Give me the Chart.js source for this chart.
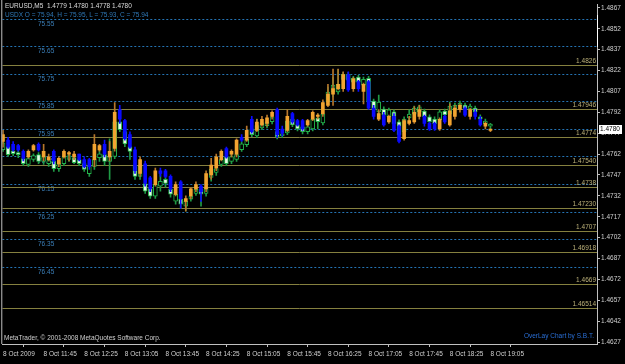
<!DOCTYPE html>
<html>
<head>
<meta charset="utf-8">
<script src="https://cdn.jsdelivr.net/npm/chart.js@4.4.1/dist/chart.umd.min.js"></script>
<style>
  html, body { margin: 0; padding: 0; background: #000; }
</style>
</head>
<body>
<canvas id="chart" width="625" height="364"></canvas>
<script>
// EURUSD M5 candles, 11:05 .. 19:05
const eurOpen = [
  1.4771, 1.4772, 1.4769, 1.4768, 1.4764, 1.4760, 1.4765, 1.4769, 1.4760, 1.4758,
  1.4764, 1.4755, 1.4760, 1.4762, 1.4760, 1.4762, 1.4758, 1.4758, 1.4758, 1.4765,
  1.4769, 1.4760, 1.4766, 1.4794, 1.4786, 1.4776, 1.4765, 1.4748, 1.4755, 1.4745,
  1.4740, 1.4750, 1.4750, 1.4746, 1.4733, 1.4742, 1.4728, 1.4732, 1.4737, 1.4739,
  1.4737, 1.4747, 1.4752, 1.4758, 1.4766, 1.4762, 1.4762, 1.4774, 1.4772, 1.4787,
  1.4779, 1.4783, 1.4784, 1.4789, 1.4794, 1.4780, 1.4779, 1.4791, 1.4786, 1.4786,
  1.4783, 1.4787, 1.4789, 1.4791, 1.4797, 1.4805, 1.4809, 1.4809, 1.4819, 1.4809,
  1.4814, 1.4807, 1.4814, 1.4795, 1.4787, 1.4790, 1.4785, 1.4789, 1.4782, 1.4773,
  1.4784, 1.4785, 1.4789, 1.4789, 1.4784, 1.4784, 1.4780, 1.4789, 1.4783, 1.4789,
  1.4794, 1.4795, 1.4789, 1.4792, 1.4787, 1.4782, 1.4779
];
const eurHigh = [
  1.4779, 1.4774, 1.4771, 1.4769, 1.4765, 1.4765, 1.4769, 1.4770, 1.4769, 1.4762,
  1.4765, 1.4760, 1.4765, 1.4764, 1.4764, 1.4762, 1.4760, 1.4759, 1.4776, 1.4769,
  1.4772, 1.4771, 1.4799, 1.4797, 1.4787, 1.4778, 1.4767, 1.4760, 1.4757, 1.4746,
  1.4752, 1.4752, 1.4751, 1.4747, 1.4742, 1.4743, 1.4732, 1.4738, 1.4742, 1.4740,
  1.4750, 1.4759, 1.4762, 1.4765, 1.4767, 1.4765, 1.4773, 1.4776, 1.4782, 1.4789,
  1.4787, 1.4789, 1.4790, 1.4793, 1.4795, 1.4782, 1.4794, 1.4792, 1.4787, 1.4787,
  1.4787, 1.4793, 1.4791, 1.4801, 1.4812, 1.4823, 1.4823, 1.4821, 1.4821, 1.4817,
  1.4815, 1.4813, 1.4815, 1.4797, 1.4794, 1.4792, 1.4790, 1.4791, 1.4783, 1.4787,
  1.4789, 1.4796, 1.4797, 1.4790, 1.4785, 1.4785, 1.4788, 1.4790, 1.4798, 1.4797,
  1.4798, 1.4796, 1.4795, 1.4794, 1.4789, 1.4785, 1.4780
];
const eurLow = [
  1.4767, 1.4766, 1.4764, 1.4764, 1.4757, 1.4759, 1.4764, 1.4764, 1.4757, 1.4757,
  1.4755, 1.4753, 1.4759, 1.4757, 1.4758, 1.4757, 1.4752, 1.4751, 1.4753, 1.4764,
  1.4760, 1.4757, 1.4764, 1.4784, 1.4772, 1.4766, 1.4748, 1.4746, 1.4739, 1.4735,
  1.4739, 1.4746, 1.4745, 1.4735, 1.4732, 1.4723, 1.4721, 1.4730, 1.4735, 1.4728,
  1.4735, 1.4744, 1.4750, 1.4757, 1.4759, 1.4760, 1.4760, 1.4771, 1.4771, 1.4777,
  1.4778, 1.4782, 1.4782, 1.4787, 1.4774, 1.4775, 1.4778, 1.4784, 1.4782, 1.4779,
  1.4782, 1.4786, 1.4787, 1.4789, 1.4796, 1.4797, 1.4808, 1.4807, 1.4807, 1.4807,
  1.4807, 1.4798, 1.4794, 1.4787, 1.4786, 1.4782, 1.4784, 1.4778, 1.4770, 1.4772,
  1.4783, 1.4784, 1.4787, 1.4782, 1.4779, 1.4779, 1.4779, 1.4784, 1.4782, 1.4787,
  1.4792, 1.4789, 1.4787, 1.4787, 1.4782, 1.4780, 1.4778
];
const eurClose = [
  1.4776, 1.4767, 1.4765, 1.4765, 1.4759, 1.4764, 1.4768, 1.4765, 1.4764, 1.4760,
  1.4757, 1.4759, 1.4764, 1.4763, 1.4762, 1.4758, 1.4753, 1.4753, 1.4769, 1.4768,
  1.4762, 1.4764, 1.4792, 1.4787, 1.4773, 1.4767, 1.4750, 1.4758, 1.4741, 1.4737,
  1.4750, 1.4748, 1.4746, 1.4737, 1.4740, 1.4730, 1.4730, 1.4737, 1.4740, 1.4735,
  1.4748, 1.4754, 1.4760, 1.4764, 1.4760, 1.4764, 1.4772, 1.4772, 1.4779, 1.4778,
  1.4785, 1.4787, 1.4788, 1.4792, 1.4776, 1.4777, 1.4789, 1.4785, 1.4783, 1.4780,
  1.4786, 1.4792, 1.4790, 1.4799, 1.4805, 1.4809, 1.4812, 1.4819, 1.4808, 1.4816,
  1.4809, 1.4812, 1.4795, 1.4789, 1.4791, 1.4783, 1.4789, 1.4779, 1.4771, 1.4786,
  1.4786, 1.4792, 1.4794, 1.4784, 1.4780, 1.4780, 1.4787, 1.4785, 1.4793, 1.4795,
  1.4797, 1.4790, 1.4794, 1.4789, 1.4783, 1.4784, 1.4780
];

// USDX overlay (drawn on its own inverted scale)
const usdxOpen = [
  76.025, 76.014, 76.029, 76.036, 76.058, 76.079, 76.061, 76.043, 76.068, 76.076,
  76.068, 76.094, 76.076, 76.061, 76.054, 76.061, 76.076, 76.112, 76.086, 76.054,
  76.043, 76.068, 76.050, 75.924, 75.960, 76.014, 76.086, 76.122, 76.148, 76.166,
  76.194, 76.158, 76.133, 76.169, 76.212, 76.205, 76.230, 76.205, 76.184, 76.169,
  76.184, 76.126, 76.108, 76.079, 76.050, 76.068, 76.061, 76.025, 76.007, 75.950,
  75.975, 75.946, 75.938, 75.924, 75.960, 75.975, 75.964, 75.914, 75.935, 75.942,
  75.960, 75.950, 75.910, 75.928, 75.852, 75.816, 75.816, 75.770, 75.752, 75.780,
  75.762, 75.791, 75.766, 75.849, 75.888, 75.878, 75.906, 75.888, 75.924, 75.960,
  75.910, 75.896, 75.888, 75.885, 75.906, 75.914, 75.917, 75.885, 75.896, 75.881,
  75.867, 75.863, 75.881, 75.874, 75.906, 75.932, 75.940
];
const usdxHigh = [
  76.032, 76.050, 76.047, 76.054, 76.083, 76.086, 76.068, 76.076, 76.079, 76.086,
  76.104, 76.104, 76.083, 76.068, 76.076, 76.083, 76.104, 76.122, 76.097, 76.068,
  76.083, 76.133, 76.058, 75.960, 76.014, 76.061, 76.133, 76.133, 76.184, 76.202,
  76.202, 76.176, 76.162, 76.198, 76.223, 76.238, 76.248, 76.212, 76.191, 76.230,
  76.194, 76.140, 76.119, 76.086, 76.083, 76.076, 76.068, 76.032, 76.014, 75.978,
  75.982, 75.953, 75.946, 75.932, 75.986, 75.982, 75.971, 75.942, 75.957, 75.968,
  75.968, 75.957, 75.950, 75.935, 75.860, 75.834, 75.824, 75.777, 75.780, 75.788,
  75.788, 75.798, 75.860, 75.885, 75.914, 75.906, 75.914, 75.938, 75.978, 75.968,
  75.924, 75.903, 75.896, 75.914, 75.932, 75.938, 75.924, 75.906, 75.903, 75.888,
  75.874, 75.885, 75.888, 75.896, 75.921, 75.938, 75.950
];
const usdxLow = [
  75.989, 76.007, 76.022, 76.029, 76.050, 76.050, 76.040, 76.036, 76.043, 76.058,
  76.061, 76.068, 76.043, 76.040, 76.047, 76.054, 76.068, 76.079, 76.032, 76.025,
  76.032, 75.986, 75.888, 75.906, 75.953, 76.007, 76.050, 76.068, 76.104, 76.158,
  76.140, 76.104, 76.122, 76.158, 76.180, 76.194, 76.205, 76.187, 76.162, 76.162,
  76.158, 76.086, 76.086, 76.054, 76.043, 76.043, 76.032, 75.996, 75.978, 75.942,
  75.914, 75.921, 75.917, 75.899, 75.896, 75.960, 75.914, 75.906, 75.928, 75.935,
  75.935, 75.906, 75.896, 75.888, 75.798, 75.762, 75.734, 75.744, 75.744, 75.759,
  75.755, 75.762, 75.759, 75.842, 75.827, 75.870, 75.874, 75.881, 75.917, 75.906,
  75.881, 75.867, 75.863, 75.878, 75.899, 75.906, 75.881, 75.878, 75.852, 75.856,
  75.849, 75.856, 75.860, 75.867, 75.899, 75.914, 75.930
];
const usdxClose = [
  76.000, 76.043, 76.040, 76.043, 76.076, 76.058, 76.047, 76.068, 76.050, 76.065,
  76.094, 76.076, 76.050, 76.047, 76.072, 76.076, 76.097, 76.086, 76.061, 76.040,
  76.068, 76.050, 75.924, 75.953, 76.004, 76.032, 76.122, 76.086, 76.176, 76.194,
  76.151, 76.140, 76.148, 76.187, 76.187, 76.223, 76.212, 76.194, 76.169, 76.187,
  76.166, 76.097, 76.094, 76.061, 76.076, 76.050, 76.043, 76.004, 75.986, 75.971,
  75.938, 75.928, 75.924, 75.906, 75.978, 75.968, 75.921, 75.935, 75.950, 75.960,
  75.942, 75.914, 75.924, 75.896, 75.816, 75.791, 75.788, 75.752, 75.773, 75.766,
  75.780, 75.770, 75.852, 75.878, 75.852, 75.899, 75.881, 75.932, 75.971, 75.914,
  75.896, 75.874, 75.870, 75.906, 75.924, 75.932, 75.888, 75.899, 75.867, 75.863,
  75.856, 75.878, 75.867, 75.888, 75.914, 75.921, 75.940
];

const timeLabels = [
  '8 Oct 2009', '8 Oct 11:45', '8 Oct 12:25', '8 Oct 13:05', '8 Oct 13:45',
  '8 Oct 14:25', '8 Oct 15:05', '8 Oct 15:45', '8 Oct 16:25', '8 Oct 17:05',
  '8 Oct 17:45', '8 Oct 18:25', '8 Oct 19:05'
];
const priceTicks = [
  1.4867, 1.4852, 1.4837, 1.4822, 1.4807, 1.4792, 1.4777, 1.4762, 1.4747,
  1.4732, 1.4717, 1.4702, 1.4687, 1.4672, 1.4657, 1.4642, 1.4627
];
// horizontal levels
const eurLevels = [1.4826, 1.47946, 1.4774, 1.4754, 1.4738, 1.4723, 1.4707, 1.46918, 1.4669, 1.46514];
const eurLevelLabels = ['1.4826', '1.47946', '1.4774', '1.47540', '1.4738', '1.47230', '1.4707', '1.46918', '1.4669', '1.46514'];
const usdxLevels = [75.55, 75.65, 75.75, 75.85, 75.95, 76.05, 76.15, 76.25, 76.35, 76.45];

const FONT = '"Liberation Sans", Arial, sans-serif';
const ORANGE = '#f2a431';
const BLUE = '#0a0aff';
const GREEN = '#22b24a';

const idx = eurOpen.map((_, i) => i);
const eurUp = (i) => eurClose[i] >= eurOpen[i];
const usdxUp = (i) => usdxClose[i] > usdxOpen[i];

const overlay = {
  id: 'overlay',
  beforeDatasetsDraw(chart) {
    const { ctx, chartArea: a, scales } = chart;
    ctx.save();
    ctx.beginPath();
    ctx.rect(a.left, a.top, a.right - a.left, a.bottom - a.top);
    ctx.clip();
    ctx.lineWidth = 1;
    ctx.font = '6.5px ' + FONT;

    ctx.setLineDash([2, 2]);
    ctx.strokeStyle = '#2574b4';
    ctx.fillStyle = '#3b7fb8';
    ctx.textAlign = 'left';
    ctx.textBaseline = 'middle';
    usdxLevels.forEach((v) => {
      const py = Math.round(scales.yu.getPixelForValue(v)) + 0.5;
      ctx.beginPath();
      ctx.moveTo(a.left, py);
      ctx.lineTo(a.right, py);
      ctx.stroke();
      ctx.fillText(v.toFixed(2), 38, py + 5);
    });

    ctx.setLineDash([]);
    ctx.strokeStyle = '#85803f';
    ctx.fillStyle = '#bdb27a';
    ctx.textAlign = 'right';
    ctx.textBaseline = 'bottom';
    eurLevels.forEach((v, k) => {
      const py = Math.round(scales.y.getPixelForValue(v)) + 0.5;
      ctx.beginPath();
      ctx.moveTo(a.left, py);
      ctx.lineTo(a.right, py);
      ctx.stroke();
      ctx.fillText(eurLevelLabels[k], a.right - 1, py - 1);
    });
    ctx.restore();
  },
  afterDraw(chart) {
    const { ctx, chartArea: a, scales } = chart;
    ctx.save();
    ctx.font = '6.5px ' + FONT;
    ctx.textBaseline = 'middle';
    ctx.textAlign = 'left';

    ctx.fillStyle = '#dcdcdc';
    ctx.fillText('EURUSD,M5  1.4779 1.4780 1.4778 1.4780', 5, 6);
    ctx.fillStyle = '#2f78b6';
    ctx.fillText('USDX O = 75.94, H = 75.95, L = 75.93, C = 75.94', 5, 15);

    ctx.fillStyle = '#d0d0d0';
    ctx.fillText('MetaTrader, \u00a9 2001-2008 MetaQuotes Software Corp.', 4, 338);
    ctx.fillStyle = '#2a6fd6';
    ctx.textAlign = 'right';
    ctx.fillText('OverLay Chart by S.B.T.', 594, 336);

    // left frame
    ctx.strokeStyle = '#c0c0c0';
    ctx.lineWidth = 1;
    ctx.beginPath();
    ctx.moveTo(a.left - 0.5, 0);
    ctx.lineTo(a.left - 0.5, a.bottom);
    ctx.stroke();

    // white marker on the price axis
    ctx.strokeStyle = '#ffffff';
    ctx.beginPath();
    ctx.moveTo(a.right + 0.5, 15);
    ctx.lineTo(a.right + 0.5, 47);
    ctx.stroke();

    // bid label
    const last = eurClose[eurClose.length - 1];
    const py = Math.round(scales.y.getPixelForValue(last));
    ctx.fillStyle = '#ffffff';
    ctx.fillRect(a.right + 2, py - 4, 23, 9);
    ctx.fillStyle = '#000000';
    ctx.textAlign = 'left';
    ctx.fillText(last.toFixed(4), a.right + 3, py + 0.5);
    ctx.restore();
  }
};

new Chart(document.getElementById('chart'), {
  type: 'bar',
  data: {
    datasets: [
      {
        label: 'EURUSD body',
        data: idx.map((i) => ({ x: i, y: [eurOpen[i], eurClose[i]] })),
        yAxisID: 'y',
        backgroundColor: (c) => (eurUp(c.dataIndex) ? ORANGE : BLUE),
        barThickness: 3,
        minBarLength: 1,
        grouped: false,
        order: 1
      },
      {
        label: 'EURUSD wick',
        data: idx.map((i) => ({ x: i, y: [eurLow[i], eurHigh[i]] })),
        yAxisID: 'y',
        backgroundColor: (c) => (eurUp(c.dataIndex) ? '#b7772c' : BLUE),
        barThickness: 1,
        grouped: false,
        order: 2
      },
      {
        label: 'USDX body',
        data: idx.map((i) => ({ x: i, y: [usdxOpen[i], usdxClose[i]] })),
        yAxisID: 'yu',
        backgroundColor: (c) => (usdxUp(c.dataIndex) ? '#e4fbe4' : '#000000'),
        borderColor: GREEN,
        borderWidth: 1,
        borderSkipped: false,
        barThickness: 4,
        minBarLength: 2,
        grouped: false,
        order: 3
      },
      {
        label: 'USDX wick',
        data: idx.map((i) => ({ x: i, y: [usdxLow[i], usdxHigh[i]] })),
        yAxisID: 'yu',
        backgroundColor: '#1f9a45',
        barThickness: 1,
        grouped: false,
        order: 4
      }
    ]
  },
  options: {
    responsive: false,
    animation: false,
    layout: { padding: { left: 2, top: 2, right: 0, bottom: 0 } },
    plugins: { legend: { display: false }, tooltip: { enabled: false } },
    scales: {
      x: {
        type: 'linear',
        offset: false,
        min: -0.14,
        max: 116.99,
        afterBuildTicks: (s) => { s.ticks = timeLabels.map((_, k) => ({ value: k * 8 })); },
        afterFit: (s) => { s.height = 20; },
        ticks: {
          autoSkip: false,
          maxRotation: 0,
          align: 'start',
          padding: 3,
          color: '#d0d0d0',
          font: { family: FONT, size: 6.5 },
          callback: (v, k) => timeLabels[k]
        },
        grid: { drawOnChartArea: false, tickLength: 3, tickColor: '#c0c0c0' },
        border: { color: '#c0c0c0' }
      },
      y: {
        type: 'linear',
        position: 'right',
        min: 1.46256,
        max: 1.48691,
        afterBuildTicks: (s) => { s.ticks = priceTicks.map((v) => ({ value: v })); },
        afterFit: (s) => { s.width = 28; },
        ticks: {
          autoSkip: false,
          padding: 1,
          color: '#d0d0d0',
          font: { family: FONT, size: 6.5 },
          callback: (v) => v.toFixed(4)
        },
        grid: { drawOnChartArea: false, tickLength: 3, tickColor: '#c0c0c0' },
        border: { color: '#c0c0c0' }
      },
      yu: {
        type: 'linear',
        display: false,
        reverse: true,
        min: 75.4996,
        max: 76.7308
      }
    }
  },
  plugins: [overlay]
});
</script>
</body>
</html>
